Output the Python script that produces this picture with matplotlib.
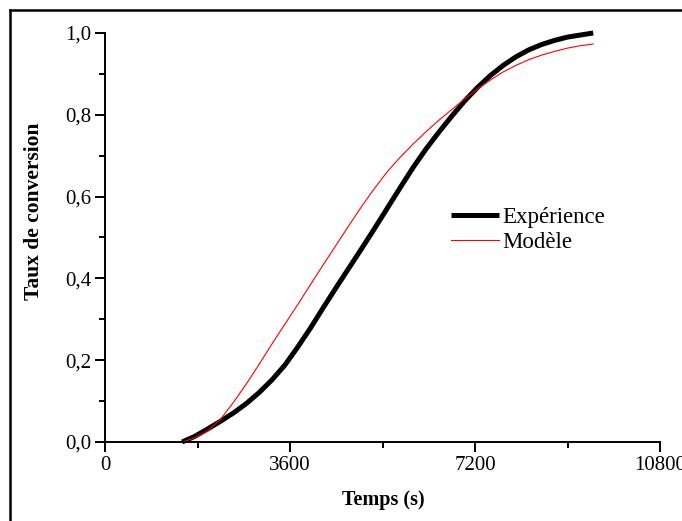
import matplotlib.pyplot as plt
from matplotlib.lines import Line2D
from matplotlib.ticker import MultipleLocator, FuncFormatter

# temps (s)
temps = [1500, 1750, 2000, 2250, 2500, 2750, 3000, 3250, 3500, 3750, 4000,
         4250, 4500, 4750, 5000, 5250, 5500, 5750, 6000, 6250, 6500, 6750,
         7000, 7250, 7500, 7750, 8000, 8250, 8500, 8750, 9000, 9250, 9500]
# taux de conversion mesure
experience = [0.000, 0.014, 0.032, 0.051, 0.071, 0.094, 0.121, 0.152, 0.188, 0.232, 0.279,
              0.329, 0.378, 0.426, 0.474, 0.523, 0.573, 0.623, 0.672, 0.717, 0.758, 0.797,
              0.834, 0.867, 0.896, 0.921, 0.942, 0.959, 0.972, 0.982, 0.990, 0.995, 1.000]
# taux de conversion calcule
modele = [0.000, 0.010, 0.027, 0.056, 0.097, 0.142, 0.190, 0.240, 0.288, 0.336, 0.385,
          0.434, 0.482, 0.530, 0.577, 0.621, 0.662, 0.697, 0.729, 0.759, 0.787, 0.813,
          0.839, 0.863, 0.885, 0.905, 0.921, 0.935, 0.946, 0.955, 0.963, 0.969, 0.973]

plt.rcParams['font.family'] = ['Liberation Serif', 'DejaVu Serif']

fig = plt.figure(figsize=(6.82, 5.21), dpi=100)
ax = fig.add_axes([105/682, 1-442/521, 555/682, 409/521])

ax.plot(temps, experience, color='black', lw=3.6, label='Expérience',
        clip_on=False, solid_capstyle='butt', solid_joinstyle='round')
ax.plot(temps, modele, color='red', lw=0.8, label='Modèle', clip_on=False)

ax.set_xlim(0, 10800)
ax.set_ylim(0, 1.0)
ax.xaxis.set_major_locator(MultipleLocator(3600))
ax.xaxis.set_minor_locator(MultipleLocator(1800))
ax.yaxis.set_major_locator(MultipleLocator(0.2))
ax.yaxis.set_minor_locator(MultipleLocator(0.1))
ax.yaxis.set_major_formatter(FuncFormatter(lambda v, p: f"{v:.1f}".replace('.', ',')))

for side in ['top', 'right']:
    ax.spines[side].set_visible(False)
for side in ['left', 'bottom']:
    ax.spines[side].set_linewidth(1.4)

ax.tick_params(which='major', direction='out', length=7, width=1.4, labelsize=15, pad=3)
ax.tick_params(which='minor', direction='out', length=4, width=1.4)

ax.set_xlabel('Temps (s)', fontsize=14.5, fontweight='bold')
ax.set_ylabel('Taux de conversion', fontsize=15.5, fontweight='bold')
ax.xaxis.set_label_coords(0.501, -0.118)
ax.yaxis.set_label_coords(-0.110, 0.565)

ax.legend(loc='upper left', bbox_to_anchor=(0.624, 0.575), frameon=False,
          fontsize=16.5, handlelength=2.1, handletextpad=0.13,
          labelspacing=0.16, borderpad=0, borderaxespad=0)

# cadre autour de la figure
fig.add_artist(Line2D([10/682, 1.0], [1-10/521, 1-10/521], color='black', lw=1.8,
                      transform=fig.transFigure))
fig.add_artist(Line2D([10/682, 10/682], [0, 1-10/521], color='black', lw=1.8,
                      transform=fig.transFigure))

fig.savefig('out.png', dpi=100)
